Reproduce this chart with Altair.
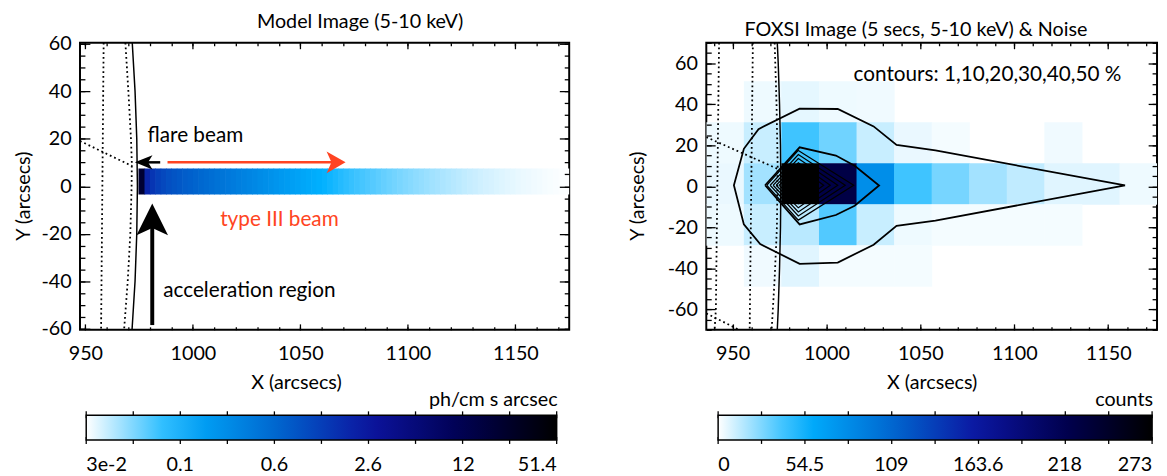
import altair as alt
import pandas as pd

FONT = "Lato"
RED = "#ff4422"
INK = "#000000"
CMAP = ["#ffffff", "#00b0ff", "#0068d0", "#0c14a0", "#000050", "#000000"]

# ---------------- Left panel : model image ----------------
L_XDOM = [947.5, 1175.0]
L_YDOM = [-60.5, 60.5]
model_stripe_x = [974.7, 977.5]      # bright acceleration-region stripe
model_stripe_flux = 20.0
MODEL_BIN0 = 977.5                   # first edge of the beam bins
MODEL_BIN = 2.5                      # bin width (arcsec)
model_flux = [1.94, 1.44, 1.20, 1.03, 0.922, 0.843, 0.777, 0.721, 0.674, 0.631,
              0.590, 0.551, 0.516, 0.482, 0.451, 0.422, 0.395, 0.369, 0.345, 0.323,
              0.302, 0.282, 0.264, 0.247, 0.231, 0.216, 0.202, 0.189, 0.177, 0.165,
              0.154, 0.144, 0.136, 0.129, 0.122, 0.115, 0.108, 0.102, 0.0973, 0.0923,
              0.0883, 0.0845, 0.0808, 0.0772, 0.0739, 0.0706, 0.0681, 0.0651, 0.0627, 0.0604,
              0.0582, 0.0561, 0.0540, 0.0520, 0.0505, 0.0487, 0.0473, 0.0459, 0.0445, 0.0432,
              0.0419, 0.0410, 0.0398, 0.0389, 0.0381, 0.0372, 0.0364, 0.0356, 0.0351, 0.0343,
              0.0338, 0.0333, 0.0328, 0.0323, 0.0318, 0.0314, 0.0311, 0.0307, 0.0305, 0.0302]
model_beam_y = [-3.5, 7.5]
model_cbar_values = [0.03, 0.133, 0.59, 2.6, 11.7, 51.4]
model_cbar_labels = ["3e-2", "0.1", "0.6", "2.6", "12", "51.4"]
CBAR_TICKS = [0.0, 0.1, 0.2, 0.3, 0.4, 0.5, 0.6, 0.7, 0.8, 0.9, 1.0]   # fractions along a bar

L_limb_y = [60.5, 40, 20, 0, -20, -40, -60.5]
L_limb_x = [971.8, 973.1, 973.9, 974.2, 973.9, 973.1, 971.7]
L_dot1_x = [958.5, 957.3]
L_dot1_y = [60.5, -60.5]
L_dot2_x = [968.6, 970.0, 971.2, 971.6, 971.5, 970.9, 969.7, 968.0]
L_dot2_y = [60.5, 40, 20, 10, 0, -20, -40, -60.5]
L_lat_x = [947.5, 971.8]
L_lat_y = [19.1, 8.5]

flare_shaft_x = [976.5, 984.8]
flare_y = 10.1
flare_tip_x = 973.0
beam_shaft_x = [988.2, 1066.0]
beam_tip_x = 1071.0
accel_x = 981.1
accel_shaft_y = [-58.5, -14.0]
accel_tip_y = -7.3

L_text = ["flare beam", "acceleration region"]
L_text_x = [978.9, 986.2]
L_text_y = [21.1, -44.0]
L_red_text = ["type III beam"]
L_red_x = [1012.7]
L_red_y = [-14.2]

L_xmaj = [950, 1000, 1050, 1100, 1150]
L_xmin = list(range(950, 1171, 10))
L_ymaj = [-60, -40, -20, 0, 20, 40, 60]
L_ymin = list(range(-60, 61, 5))

# ---------------- Right panel : FOXSI image ----------------
R_XDOM = [936.0, 1176.0]
R_YDOM = [-70.0, 70.0]
FOXSI_PIX = 20
foxsi_col_x = [936, 956, 976, 996, 1016, 1036, 1056, 1076, 1096, 1116, 1136, 1156]
foxsi_row_y = [41, 21, 1, -19, -39]
foxsi_counts = [
    [0, 3.6, 5.6, 3.6, 3.2, 0, 0, 0, 0, 0, 0, 0],
    [3.6, 11.8, 41, 30.6, 11.8, 4.5, 2.4, 0, 0, 3.2, 0, 0],
    [4.5, 19.7, 273, 225, 80, 41, 29, 19.7, 13.5, 6.7, 6.7, 3.6],
    [3.6, 11.8, 15, 37, 11.8, 3.6, 2.4, 2.4, 2.4, 2.4, 0, 0],
    [0, 3.2, 6.7, 2.4, 2.4, 2.4, 0, 0, 0, 0, 0, 0],
]
foxsi_cbar_values = [0, 54.5, 109, 163.6, 218, 273]
foxsi_cbar_labels = ["0", "54.5", "109", "163.6", "218", "273"]

c1_x = [1159, 1058, 1037.3, 1025.1, 1006, 985.7, 963.8, 956, 950.7, 956, 964.7, 985.7, 1006, 1025.1, 1037.3, 1058, 1159]
c1_y = [0.4, 17.5, 20.2, 29.2, 37.7, 37.9, 27.9, 18.3, 0.5, -18.6, -28.2, -37.8, -37.2, -28.5, -19.3, -16.7, 0.4]
c10_x = [967.3, 985.7, 1005, 1015, 1028, 1015, 1005, 985.7, 967.3]
c10_y = [0.5, 19, 15, 10, 0.4, -9.5, -14, -18.6, 0.5]
inner_x = [
    [968.2, 985, 1014.5, 985, 968.2],
    [970.0, 985, 1010.0, 985, 970.0],
    [971.6, 985, 1006.0, 985, 971.6],
    [973.2, 985, 1002.0, 985, 973.2],
    [974.8, 985, 998.5, 985, 974.8],
    [976.4, 985, 995.5, 985, 976.4],
    [978.0, 985, 992.5, 985, 978.0],
]
inner_y = [
    [0.5, 17.5, 0.5, -16.5, 0.5],
    [0.5, 15.5, 0.5, -14.5, 0.5],
    [0.5, 13.5, 0.5, -12.5, 0.5],
    [0.5, 11.5, 0.5, -10.5, 0.5],
    [0.5, 9.5, 0.5, -8.5, 0.5],
    [0.5, 7.5, 0.5, -6.5, 0.5],
    [0.5, 5.5, 0.5, -4.5, 0.5],
]
R_limb_y = [70, 60, 40, 20, 0, -20, -40, -60, -70]
R_limb_x = [973.8, 974.3, 975.0, 975.5, 975.7, 975.5, 975.0, 974.3, 973.8]
R_dota_x = [942.8, 941.1, 940.4]
R_dota_y = [70, -60.2, -70]
R_dotb_x = [960.8, 959.1]
R_dotb_y = [70, -70]
R_dotc_x = [972.4, 973.4, 974.0, 973.6, 972.4, 970.8]
R_dotc_y = [70, 40, 10, -20, -45, -70]
R_lat1_x = [936.0, 974.0]
R_lat1_y = [24.0, 8.5]
R_lat2_x = [936.0, 953.5]
R_lat2_y = [-62.0, -70.0]
R_text = ["contours: 1,10,20,30,40,50 %"]
R_text_x = [1014.4]
R_text_y = [54.4]

R_xmaj = [950, 1000, 1050, 1100, 1150]
R_xmin = list(range(940, 1171, 10))
R_ymaj = [-60, -40, -20, 0, 20, 40, 60]
R_ymin = list(range(-70, 71, 5))

# colour-bar geometry (pixels, relative to each panel's plot origin)
LEG_Y = 352.7
LEG_TITLE_H = 20
LEG_TITLE_PAD = 5
LEG_THICK = 25
L_LEG_X, L_LEG_LEN = 6.3, 477
R_LEG_X, R_LEG_LEN = 12, 440

# ---------------- helpers ----------------
def lines_df(pairs):
    rows = []
    for k, (xs, ys) in enumerate(pairs):
        for i, (x, y) in enumerate(zip(xs, ys)):
            rows.append({"id": k, "i": i, "x": x, "y": y})
    return pd.DataFrame(rows)


def label_expr(values, labels, log=False):
    s = ""
    for i in range(len(values) - 1):
        t = (values[i] * values[i + 1]) ** 0.5 if log else (values[i] + values[i + 1]) / 2
        s += f"datum.value < {t:.6g} ? '{labels[i]}' : "
    return s + f"'{labels[-1]}'"


def tick_axis(orient, values, size):
    return alt.Axis(orient=orient, values=values, tickSize=size, offset=-size, ticks=True,
                    domain=False, grid=False, labels=False, title=None,
                    tickColor=INK, tickWidth=1.3, zindex=2)


def label_axis(orient, values, size, title, label_pad, title_pad, **kw):
    return alt.Axis(orient=orient, values=values, tickSize=size, offset=-size, ticks=True,
                    domain=False, grid=False, labels=True, labelFont=FONT, labelFontSize=20,
                    labelColor=INK, labelExpr="'' + datum.value", labelPadding=label_pad,
                    labelOverlap=False, labelFlush=False, title=title, titleFont=FONT,
                    titleFontSize=20, titleFontWeight="normal", titleColor=INK,
                    titlePadding=title_pad, tickColor=INK, tickWidth=1.3, zindex=2, **kw)


def cbar_legend(title, values, labels, log, lx, length):
    return alt.Legend(orient="none", legendX=lx, legendY=LEG_Y, direction="horizontal",
                      gradientLength=length, gradientThickness=LEG_THICK, title=title,
                      titleOrient="top", titleAnchor="end", titleFont=FONT,
                      titleFontSize=LEG_TITLE_H, titleFontWeight="normal", titleColor=INK,
                      titlePadding=LEG_TITLE_PAD,
                      labelFont=FONT, labelFontSize=20, labelColor=INK, labelOffset=15,
                      values=values, labelExpr=label_expr(values, labels, log),
                      labelOverlap=False, gradientStrokeColor=INK, gradientStrokeWidth=1.5,
                      padding=0)


def cbar_ticks(x0, length):
    sc = alt.Scale(domain=[0, 1], range=[x0, x0 + length], nice=False, zero=False)
    df = pd.DataFrame({"f": CBAR_TICKS})
    top = LEG_Y + LEG_TITLE_H + LEG_TITLE_PAD
    bot = top + LEG_THICK
    t = alt.Chart(df).mark_rule(color=INK, strokeWidth=1.3, clip=False).encode(
        x=alt.X("f:Q", scale=sc, axis=None), y=alt.value(top - 4), y2=alt.value(top + 3))
    b = alt.Chart(df).mark_rule(color=INK, strokeWidth=1.3, clip=False).encode(
        x=alt.X("f:Q", scale=sc, axis=None), y=alt.value(bot - 3), y2=alt.value(bot + 4))
    return [t, b]


# ---------------- left panel ----------------
XS_L = alt.Scale(domain=L_XDOM, nice=False, zero=False)
YS_L = alt.Scale(domain=L_YDOM, nice=False, zero=False)

bin_lo = [model_stripe_x[0]] + [MODEL_BIN0 + MODEL_BIN * k for k in range(len(model_flux))]
bin_hi = [model_stripe_x[1]] + [MODEL_BIN0 + MODEL_BIN * (k + 1) for k in range(len(model_flux))]
beam_df = pd.DataFrame({
    "x0": bin_lo,
    "x1": [h + 0.3 for h in bin_hi],
    "y0": model_beam_y[0],
    "y1": model_beam_y[1],
    "flux": [model_stripe_flux] + model_flux,
})

left_beam = alt.Chart(beam_df).mark_rect(clip=True, strokeWidth=0).encode(
    x=alt.X("x0:Q", scale=XS_L,
            axis=label_axis("bottom", L_xmaj, 6, "X (arcsecs)", 14, 10, titleX=219)),
    x2="x1:Q",
    y=alt.Y("y0:Q", scale=YS_L,
            axis=label_axis("left", L_ymaj, 10, "Y (arcsecs)", 9, 8, titleY=155)),
    y2="y1:Q",
    color=alt.Color("flux:Q",
                    scale=alt.Scale(type="log", domain=model_cbar_values, range=CMAP,
                                    interpolate="rgb"),
                    legend=cbar_legend("ph/cm s arcsec", model_cbar_values, model_cbar_labels,
                                       True, L_LEG_X, L_LEG_LEN)),
)

left_dotted = alt.Chart(lines_df([(L_dot1_x, L_dot1_y), (L_dot2_x, L_dot2_y),
                                   (L_lat_x, L_lat_y)])).mark_line(
    clip=True, color=INK, strokeWidth=1.8, strokeDash=[1.8, 3.0]).encode(
    x=alt.X("x:Q", scale=XS_L, axis=tick_axis("bottom", L_xmin, 3)),
    y=alt.Y("y:Q", scale=YS_L, axis=tick_axis("left", L_ymin, 5)),
    detail="id:N", order="i:Q")

left_limb = alt.Chart(lines_df([(L_limb_x, L_limb_y)])).mark_line(
    clip=True, color=INK, strokeWidth=1.5).encode(
    x=alt.X("x:Q", scale=XS_L, axis=tick_axis("top", L_xmaj, 6)),
    y=alt.Y("y:Q", scale=YS_L, axis=tick_axis("right", L_ymaj, 10)),
    order="i:Q")

flare_shaft = alt.Chart(pd.DataFrame({"x": [flare_shaft_x[0]], "x2": [flare_shaft_x[1]],
                                      "y": [flare_y]})).mark_rule(
    color=INK, strokeWidth=2.5).encode(
    x=alt.X("x:Q", scale=XS_L, axis=tick_axis("top", L_xmin, 3)),
    x2="x2:Q",
    y=alt.Y("y:Q", scale=YS_L, axis=tick_axis("right", L_ymin, 5)))

beam_shaft = alt.Chart(pd.DataFrame({"x": [beam_shaft_x[0]], "x2": [beam_shaft_x[1]],
                                     "y": [flare_y]})).mark_rule(
    color=RED, strokeWidth=2.5).encode(
    x=alt.X("x:Q", scale=XS_L, axis=None), x2="x2:Q",
    y=alt.Y("y:Q", scale=YS_L, axis=None))

accel_shaft = alt.Chart(pd.DataFrame({"x": [accel_x], "y": [accel_shaft_y[0]],
                                      "y2": [accel_shaft_y[1]]})).mark_rule(
    color=INK, strokeWidth=4).encode(
    x=alt.X("x:Q", scale=XS_L, axis=None),
    y=alt.Y("y:Q", scale=YS_L, axis=None), y2="y2:Q")


def head(x, y, shape, size, color):
    return alt.Chart(pd.DataFrame({"x": [x], "y": [y]})).mark_point(
        shape=shape, size=size, filled=True, color=color, opacity=1, strokeWidth=0).encode(
        x=alt.X("x:Q", scale=XS_L, axis=None), y=alt.Y("y:Q", scale=YS_L, axis=None))


flare_head = head(flare_tip_x, flare_y, "M0,0 L2,-0.8 L1.5,0 L2,0.8 Z", 320, INK)
beam_head = head(beam_tip_x, flare_y, "M0,0 L-1.75,-1 L-1.3,0 L-1.75,1 Z", 484, RED)
accel_head = head(accel_x, accel_tip_y, "M0,0 L1,2 L0,1.55 L-1,2 Z", 1024, INK)

left_text = alt.Chart(pd.DataFrame({"t": L_text, "x": L_text_x, "y": L_text_y})).mark_text(
    font=FONT, fontSize=21, align="left", baseline="middle", color=INK).encode(
    x=alt.X("x:Q", scale=XS_L, axis=None), y=alt.Y("y:Q", scale=YS_L, axis=None), text="t:N")
left_red = alt.Chart(pd.DataFrame({"t": L_red_text, "x": L_red_x, "y": L_red_y})).mark_text(
    font=FONT, fontSize=21, align="left", baseline="middle", color=RED).encode(
    x=alt.X("x:Q", scale=XS_L, axis=None), y=alt.Y("y:Q", scale=YS_L, axis=None), text="t:N")

left = alt.layer(left_beam, left_dotted, left_limb, flare_shaft, beam_shaft, accel_shaft,
                 flare_head, beam_head, accel_head, left_text, left_red,
                 *cbar_ticks(L_LEG_X, L_LEG_LEN)).resolve_scale(
    x="independent").resolve_axis(x="independent", y="independent").properties(
    width=496, height=291,
    title=alt.TitleParams("Model Image (5-10 keV)", font=FONT, fontSize=20,
                          fontWeight="normal", color=INK, anchor="middle", frame="group",
                          offset=2, dx=36))

# ---------------- right panel ----------------
XS_R = alt.Scale(domain=R_XDOM, nice=False, zero=False)
YS_R = alt.Scale(domain=R_YDOM, nice=False, zero=False)

cells = []
for r, yc in enumerate(foxsi_row_y):
    for c, x0 in enumerate(foxsi_col_x):
        v = foxsi_counts[r][c]
        if v > 0:
            cells.append({"x0": x0, "x1": x0 + FOXSI_PIX + 0.3,
                          "y0": yc - FOXSI_PIX / 2, "y1": yc + FOXSI_PIX / 2 + 0.3,
                          "counts": v})
foxsi_df = pd.DataFrame(cells)

right_img = alt.Chart(foxsi_df).mark_rect(clip=True, strokeWidth=0).encode(
    x=alt.X("x0:Q", scale=XS_R,
            axis=label_axis("bottom", R_xmaj, 6, "X (arcsecs)", 14, 10)),
    x2="x1:Q",
    y=alt.Y("y0:Q", scale=YS_R,
            axis=label_axis("left", R_ymaj, 9, "Y (arcsecs)", 9, 20, titleY=155)),
    y2="y1:Q",
    color=alt.Color("counts:Q",
                    scale=alt.Scale(domain=foxsi_cbar_values, range=CMAP, interpolate="rgb"),
                    legend=cbar_legend("counts", foxsi_cbar_values, foxsi_cbar_labels,
                                       False, R_LEG_X, R_LEG_LEN)),
)

outer_c = alt.Chart(lines_df([(c1_x, c1_y), (c10_x, c10_y)])).mark_line(
    clip=True, color=INK, strokeWidth=1.8).encode(
    x=alt.X("x:Q", scale=XS_R, axis=tick_axis("bottom", R_xmin, 3)),
    y=alt.Y("y:Q", scale=YS_R, axis=tick_axis("left", R_ymin, 5)),
    detail="id:N", order="i:Q")

inner_c = alt.Chart(lines_df(list(zip(inner_x, inner_y)))).mark_line(
    clip=True, color=INK, strokeWidth=1.2).encode(
    x=alt.X("x:Q", scale=XS_R, axis=tick_axis("top", R_xmaj, 6)),
    y=alt.Y("y:Q", scale=YS_R, axis=tick_axis("right", R_ymaj, 9)),
    detail="id:N", order="i:Q")

right_limb = alt.Chart(lines_df([(R_limb_x, R_limb_y)])).mark_line(
    clip=True, color=INK, strokeWidth=1.5).encode(
    x=alt.X("x:Q", scale=XS_R, axis=tick_axis("top", R_xmin, 3)),
    y=alt.Y("y:Q", scale=YS_R, axis=tick_axis("right", R_ymin, 5)),
    order="i:Q")

right_dotted = alt.Chart(lines_df([(R_dota_x, R_dota_y), (R_dotb_x, R_dotb_y),
                                    (R_dotc_x, R_dotc_y), (R_lat1_x, R_lat1_y),
                                    (R_lat2_x, R_lat2_y)])).mark_line(
    clip=True, color=INK, strokeWidth=1.8, strokeDash=[1.8, 3.0]).encode(
    x=alt.X("x:Q", scale=XS_R, axis=None),
    y=alt.Y("y:Q", scale=YS_R, axis=None),
    detail="id:N", order="i:Q")

right_text = alt.Chart(pd.DataFrame({"t": R_text, "x": R_text_x, "y": R_text_y})).mark_text(
    font=FONT, fontSize=21, align="left", baseline="middle", color=INK).encode(
    x=alt.X("x:Q", scale=XS_R, axis=None), y=alt.Y("y:Q", scale=YS_R, axis=None), text="t:N")

right = alt.layer(right_img, outer_c, inner_c, right_limb, right_dotted, right_text,
                  *cbar_ticks(R_LEG_X, R_LEG_LEN)).resolve_scale(
    x="independent").resolve_axis(x="independent", y="independent").properties(
    width=457, height=291,
    title=alt.TitleParams("FOXSI Image (5 secs, 5-10 keV) & Noise", font=FONT, fontSize=20,
                          fontWeight="normal", color=INK, anchor="middle", frame="group",
                          offset=2, dx=-16))

chart = alt.hconcat(left, right, spacing=56).resolve_scale(color="independent").properties(
    padding={"left": 4, "top": 0, "right": 0, "bottom": 0}
).configure(font=FONT).configure_view(stroke=INK, strokeWidth=2)

chart.save("out.html", embed_options={"renderer": "svg", "actions": False})
